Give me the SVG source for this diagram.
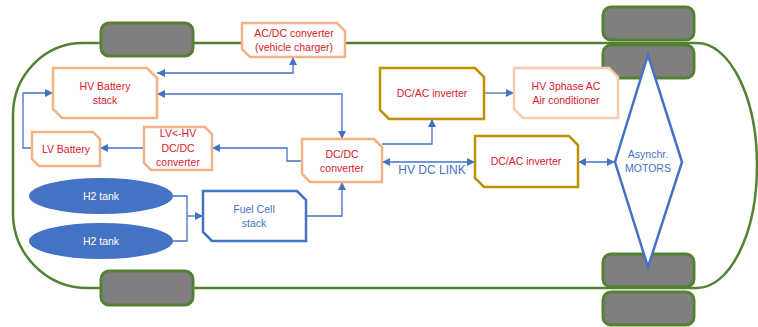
<svg xmlns="http://www.w3.org/2000/svg" width="758" height="327" viewBox="0 0 758 327">
<defs>
<style>
.body{fill:none;stroke:#548235;stroke-width:2.5}
.tire{fill:#7f7f7f;stroke:#548235;stroke-width:3}
.or{fill:#fff;stroke:#f4b183;stroke-width:2.5}
.lor{fill:#fff;stroke:#f8cbad;stroke-width:2.5}
.gd{fill:#fff;stroke:#bf9000;stroke-width:2.5}
.bl{fill:#fff;stroke:#4472c4;stroke-width:2.5}
.tank{fill:#4472c4}
.t{font-family:"Liberation Sans",Arial,sans-serif;font-size:10.5px;text-anchor:middle}
.r{fill:#d9202a}
.b{fill:#4472c4}
.w{fill:#fff}
.c{fill:none;stroke:#4472c4;stroke-width:1.3}
</style>
<marker id="a" viewBox="0 0 10 10" refX="10" refY="5" markerWidth="8" markerHeight="8" markerUnits="userSpaceOnUse" orient="auto-start-reverse">
<path d="M0,0 L10,5 L0,10 Z" fill="#4472c4"/>
</marker>
</defs>
<rect width="758" height="327" fill="#fff"/>
<g id="car">
<path class="body" d="M697,43 L83,43 A70,72 0 0 0 13,115 L13,213 A75,75 0 0 0 88,288 L697,288 A60,122.5 0 0 0 697,43 Z"/>
<rect class="tire" x="101" y="23" width="92" height="33" rx="8"/>
<rect class="tire" x="101" y="271" width="92" height="34" rx="8"/>
<rect class="tire" x="603" y="7" width="91" height="33" rx="8"/>
<rect class="tire" x="603" y="45" width="91" height="33" rx="8"/>
<rect class="tire" x="603" y="254" width="91" height="33" rx="8"/>
<rect class="tire" x="603" y="292" width="91" height="33" rx="8"/>
</g>
<g id="connectors">
<polyline class="c" points="157,73 293,73 293,57" marker-start="url(#a)" marker-end="url(#a)"/>
<polyline class="c" points="157,94 342,94 342,139" marker-start="url(#a)" marker-end="url(#a)"/>
<polyline class="c" points="32,148 23,148 23,93 53,93" marker-end="url(#a)"/>
<polyline class="c" points="302,161 287,161 287,148 212,148" marker-end="url(#a)"/>
<polyline class="c" points="144,148 100,148" marker-end="url(#a)"/>
<polyline class="c" points="382,144 432,144 432,119" marker-end="url(#a)"/>
<polyline class="c" points="484,93 514,93" marker-end="url(#a)"/>
<polyline class="c" points="382,162 475,162" marker-start="url(#a)" marker-end="url(#a)"/>
<polyline class="c" points="578,162 615,162" marker-start="url(#a)" marker-end="url(#a)"/>
<polyline class="c" points="306,216 342,216 342,182" marker-end="url(#a)"/>
<polyline class="c" points="173,196 187,196 187,241 173,241"/>
<polyline class="c" points="187,216 203,216" marker-end="url(#a)"/>
<text class="t b" x="432" y="174" style="font-size:12px">HV DC LINK</text>
</g>
<g id="acdc">
<polygon class="or" points="242,23 337,23 345,31 345,57 250,57 242,49"/>
<text class="t r" x="294" y="37">AC/DC converter</text>
<text class="t r" x="294" y="51">(vehicle charger)</text>
</g>
<g id="hvbattery">
<polygon class="or" points="53,68 147,68 157,78 157,118 62,118 53,109"/>
<text class="t r" x="105" y="90">HV Battery</text>
<text class="t r" x="105" y="104">stack</text>
</g>
<g id="lvbattery">
<polygon class="or" points="32,132 93,132 100,139 100,166 39,166 32,159"/>
<text class="t r" x="66" y="153">LV Battery</text>
</g>
<g id="lvhv">
<polygon class="or" points="144,127 205,127 212,134 212,170 151,170 144,163"/>
<text class="t r" x="178" y="137">LV&lt;-HV</text>
<text class="t r" x="178" y="152">DC/DC</text>
<text class="t r" x="178" y="166">converter</text>
</g>
<g id="dcdc">
<polygon class="or" points="302,139 374,139 382,147 382,182 310,182 302,174"/>
<text class="t r" x="342" y="158">DC/DC</text>
<text class="t r" x="342" y="172">converter</text>
</g>
<g id="inverter1">
<polygon class="gd" points="380,68 475,68 484,77 484,119 389,119 380,110"/>
<text class="t r" x="432" y="97">DC/AC inverter</text>
</g>
<g id="aircon">
<polygon class="lor" points="514,68 609,68 618,77 618,118 523,118 514,109"/>
<text class="t r" x="566" y="90">HV 3phase AC</text>
<text class="t r" x="566" y="104">Air conditioner</text>
</g>
<g id="inverter2">
<polygon class="gd" points="475,136 569,136 578,145 578,187 484,187 475,178"/>
<text class="t r" x="526" y="165">DC/AC inverter</text>
</g>
<g id="fuelcell">
<polygon class="bl" points="203,191 297,191 306,200 306,241 212,241 203,232"/>
<text class="t b" x="254" y="213">Fuel Cell</text>
<text class="t b" x="254" y="227">stack</text>
</g>
<g id="tank1">
<ellipse class="tank" cx="101" cy="196" rx="72" ry="18"/>
<text class="t w" x="101" y="200">H2 tank</text>
</g>
<g id="tank2">
<ellipse class="tank" cx="101" cy="241" rx="72" ry="18"/>
<text class="t w" x="101" y="245">H2 tank</text>
</g>
<g id="motors">
<polygon class="bl" points="648,55 682,162 648,267 615,162"/>
<text class="t b" x="648" y="158">Asynchr.</text>
<text class="t b" x="648" y="172">MOTORS</text>
</g>
</svg>
